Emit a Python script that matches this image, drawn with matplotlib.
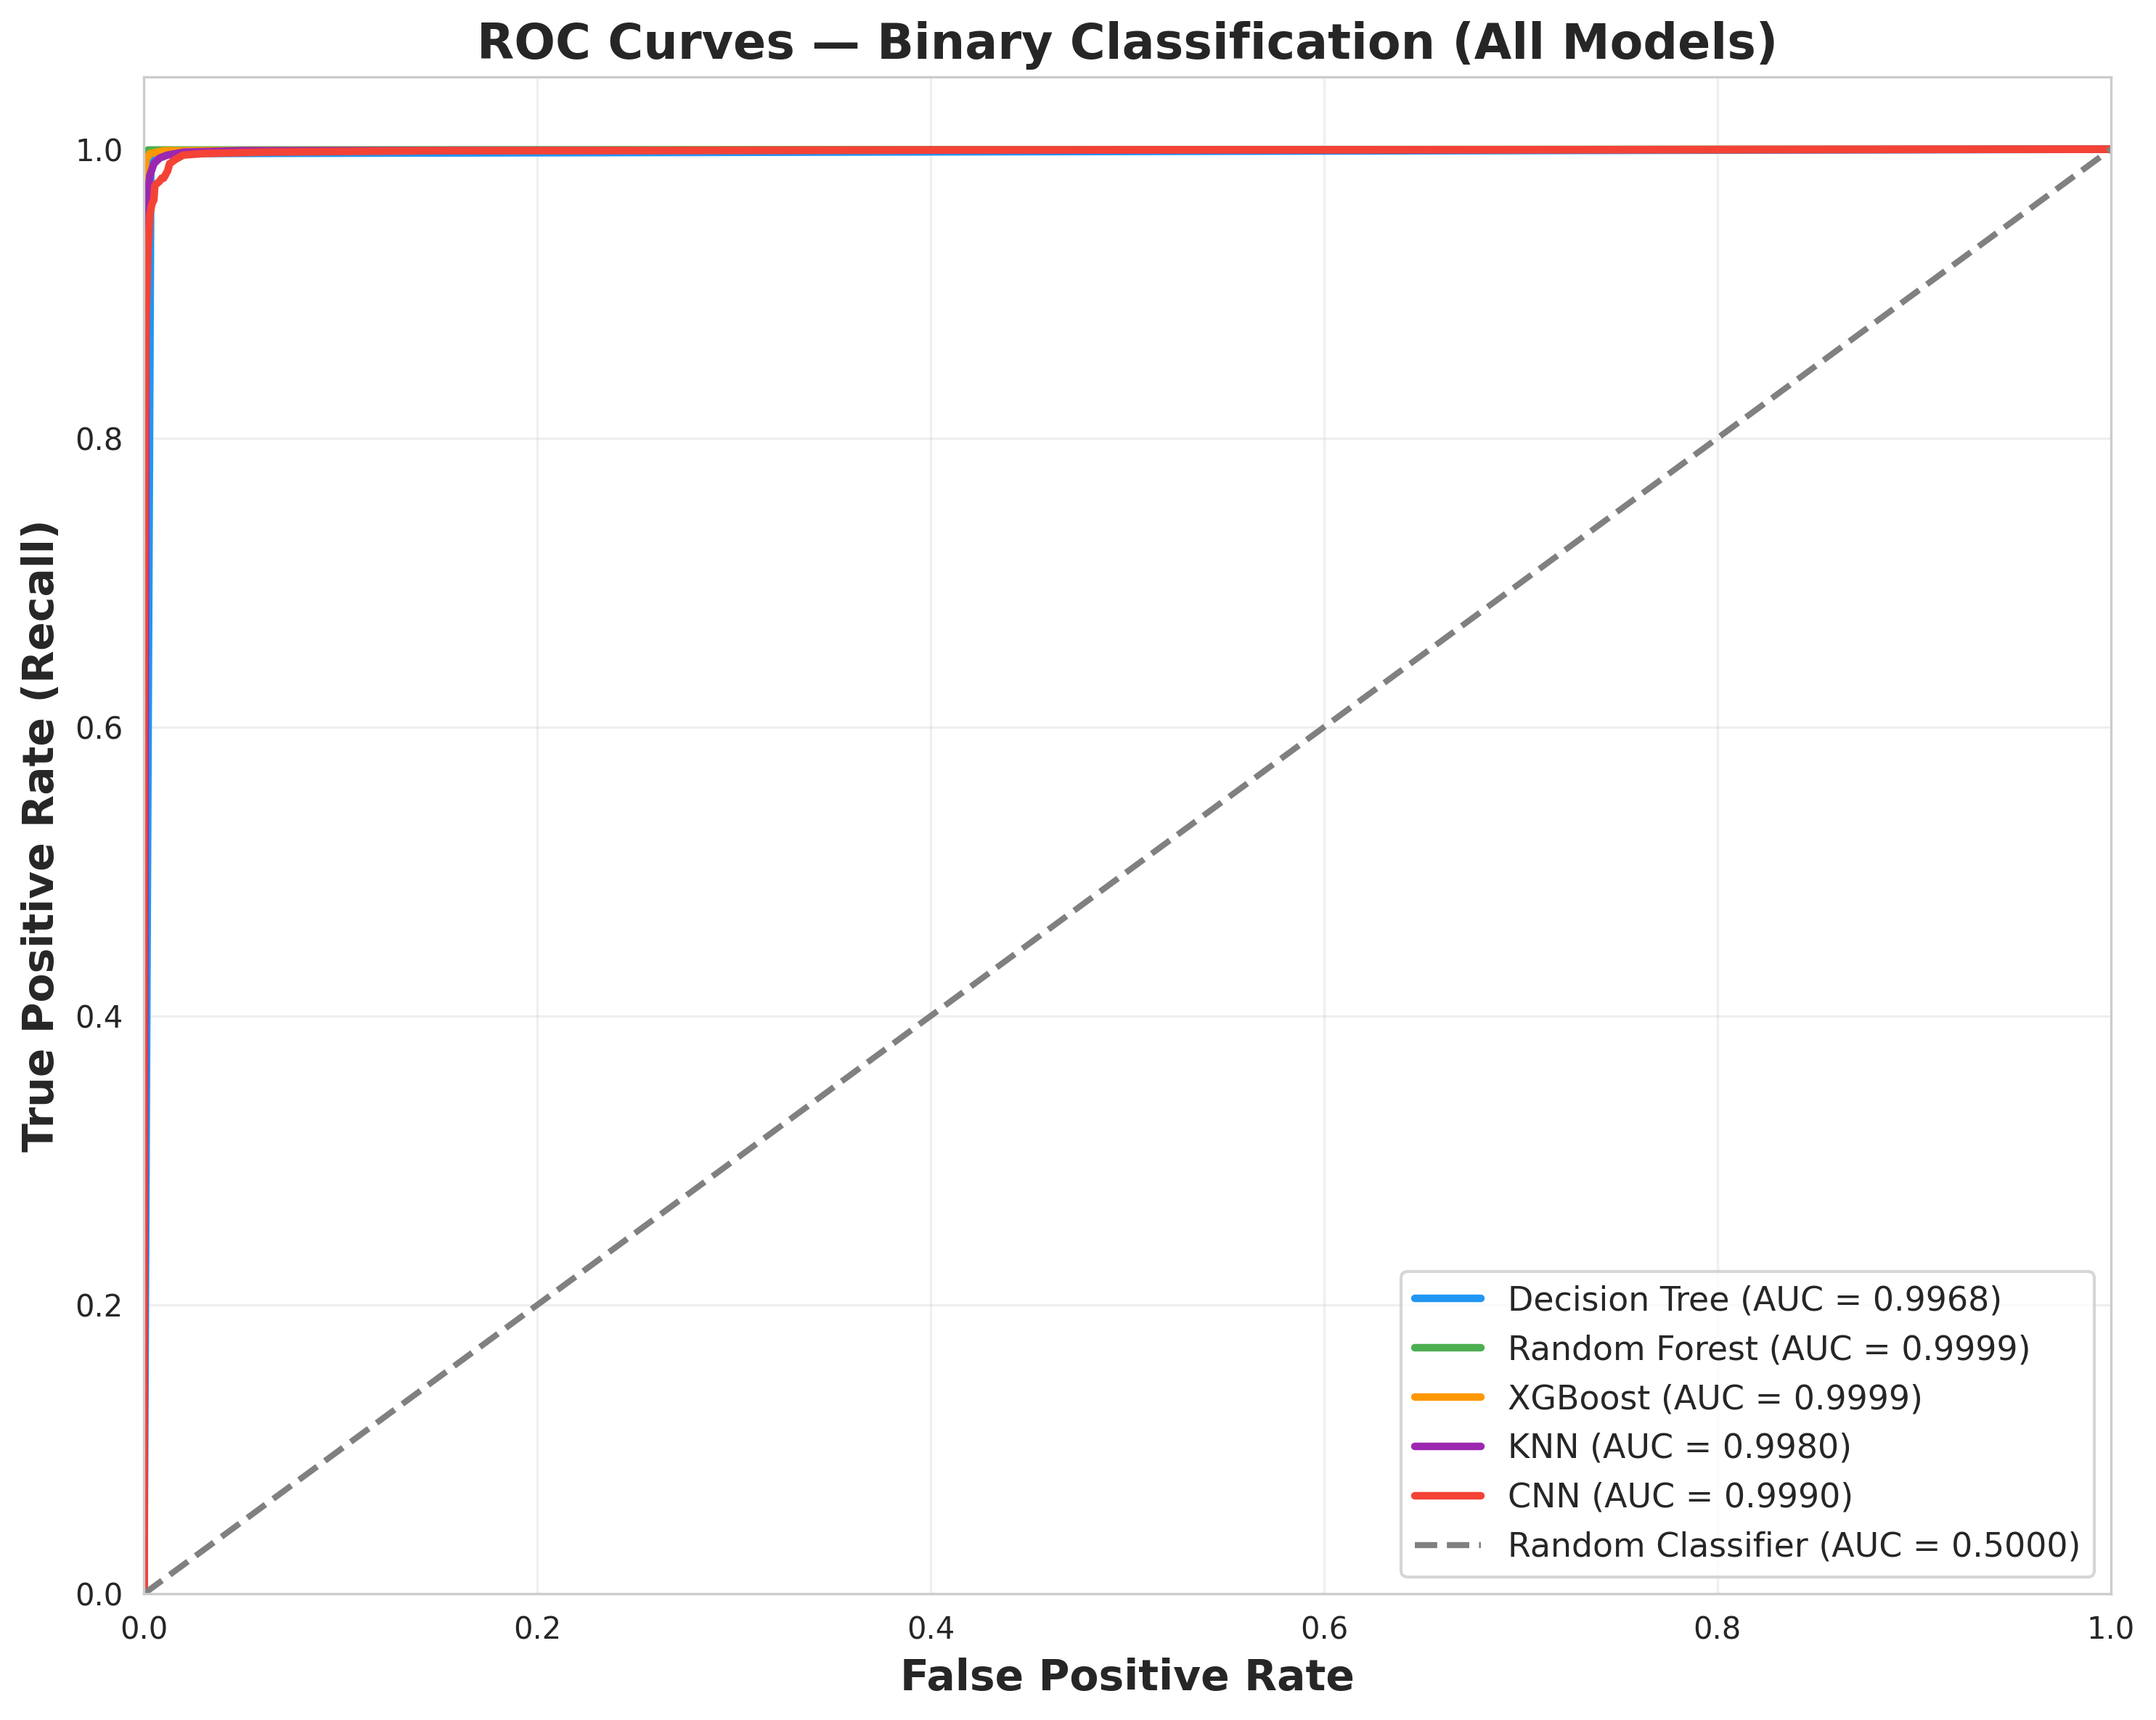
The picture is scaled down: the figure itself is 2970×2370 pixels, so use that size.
import matplotlib
matplotlib.use("Agg")
import matplotlib.pyplot as plt  # noqa: E402
import seaborn as sns  # noqa: E402

# ROC points (fpr, tpr)
dt_fpr = [0.0, 0.0035, 1.0]
dt_tpr = [0.0, 0.997, 1.0]

rf_fpr = [0.0, 0.0, 0.0005, 0.002, 1.0]
rf_tpr = [0.0, 0.99, 0.998, 0.9995, 1.0]

xgb_fpr = [0.0, 0.0, 0.001, 0.003, 0.01, 1.0]
xgb_tpr = [0.0, 0.98, 0.993, 0.997, 0.999, 1.0]

knn_fpr = [0.0, 0.0005, 0.001, 0.0015, 0.002, 0.003, 0.005, 0.008, 0.012, 0.02, 0.05, 1.0]
knn_tpr = [0.0, 0.5, 0.9, 0.95, 0.97, 0.982, 0.99, 0.994, 0.996, 0.998, 0.999, 1.0]

cnn_fpr = [0.0, 0.0, 0.0005, 0.001, 0.002, 0.003, 0.004, 0.005, 0.0055, 0.008,
           0.009, 0.010, 0.012, 0.013, 0.016, 0.020, 0.030, 0.060, 0.15, 0.4, 1.0]
cnn_tpr = [0.0, 0.60, 0.80, 0.88, 0.93, 0.955, 0.962, 0.965, 0.975, 0.978,
           0.980, 0.980, 0.985, 0.990, 0.993, 0.996, 0.997, 0.998, 0.999, 0.9995, 1.0]

models = ["Decision Tree", "Random Forest", "XGBoost", "KNN", "CNN"]
aucs = [0.9968, 0.9999, 0.9999, 0.9980, 0.9990]
colors = ["#2196F3", "#4CAF50", "#FF9800", "#9C27B0", "#F44336"]
curves = [(dt_fpr, dt_tpr), (rf_fpr, rf_tpr), (xgb_fpr, xgb_tpr),
          (knn_fpr, knn_tpr), (cnn_fpr, cnn_tpr)]

sns.set_style("whitegrid")

fig, ax = plt.subplots(figsize=(9.9, 7.9), dpi=300)

for name, auc, color, (fpr, tpr) in zip(models, aucs, colors, curves):
    ax.plot(fpr, tpr, color=color, linewidth=2.5, label=f"{name} (AUC = {auc:.4f})")

ax.plot([0, 1], [0, 1], linestyle="--", color="gray", linewidth=2,
        label="Random Classifier (AUC = 0.5000)")

ax.set_xlim(0.0, 1.0)
ax.set_ylim(0.0, 1.05)
ax.set_xlabel("False Positive Rate", fontsize=14, fontweight="bold")
ax.set_ylabel("True Positive Rate (Recall)", fontsize=14, fontweight="bold")
ax.set_title("ROC Curves \u2014 Binary Classification (All Models)",
             fontsize=16, fontweight="bold")
ax.legend(loc="lower right", fontsize=11)
ax.grid(True, alpha=0.3)

fig.tight_layout(pad=0.7)
fig.savefig("out.png", dpi=300)
plt.close(fig)
